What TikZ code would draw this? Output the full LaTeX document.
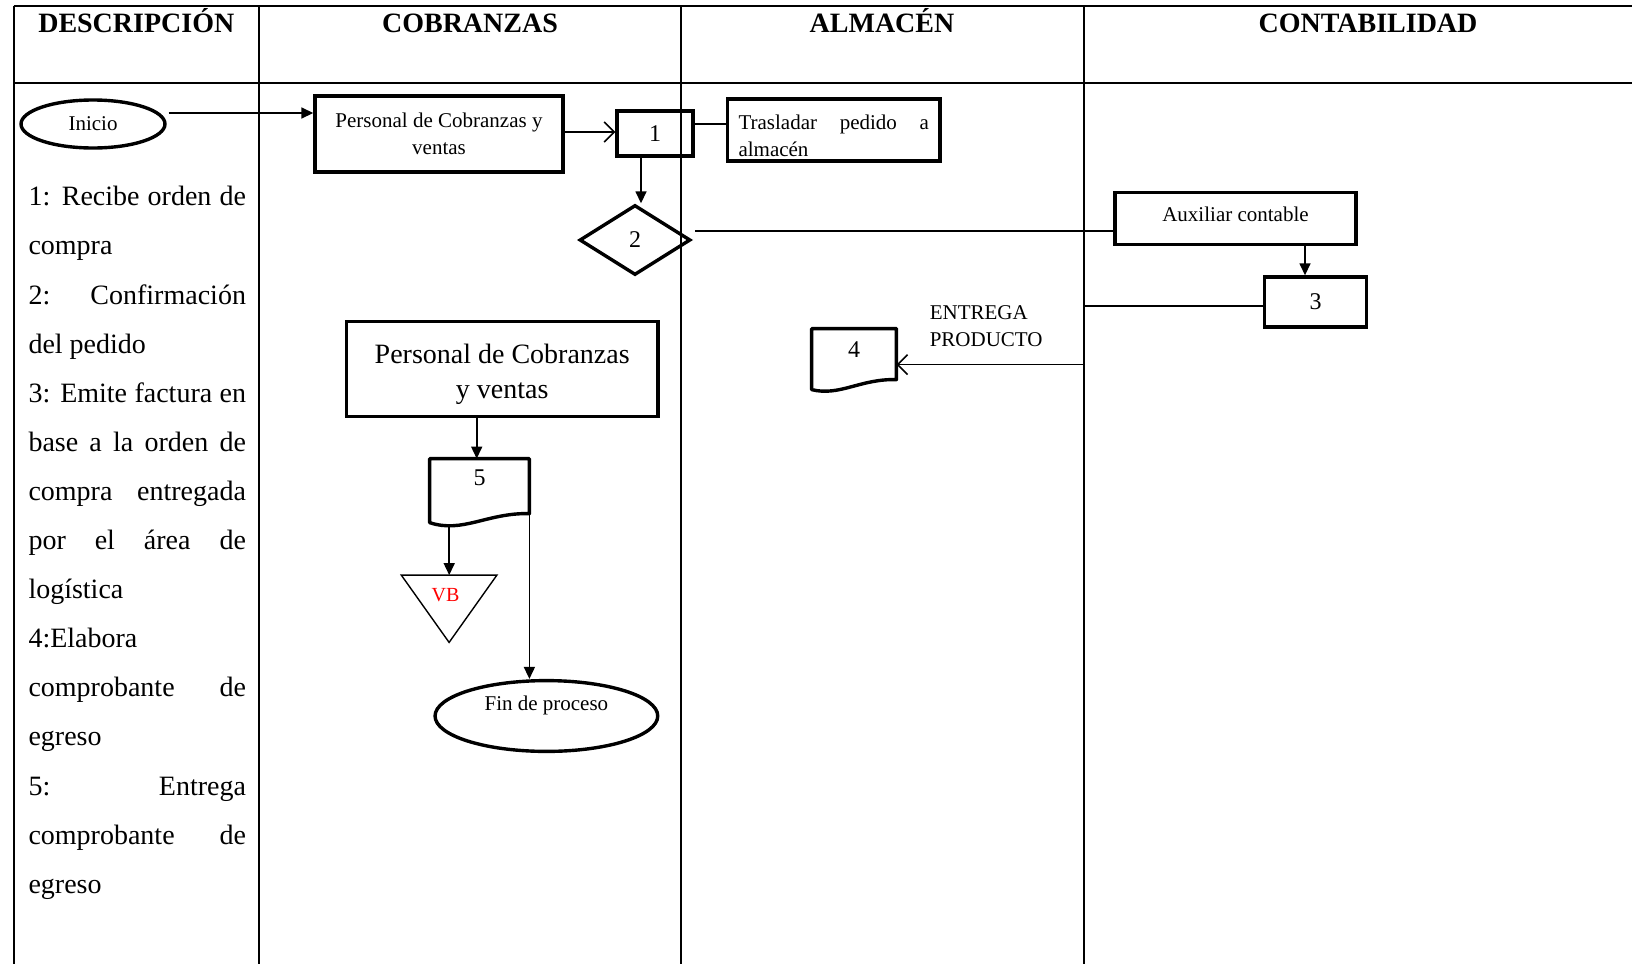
\documentclass[tikz,border=0pt]{standalone}
\usepackage{fontspec}
\setmainfont{Liberation Serif}
\usetikzlibrary{arrows.meta,shapes.geometric,calc}

\begin{document}
\begin{tikzpicture}[x=0.5pt,y=-0.5pt,
  grid/.style={line width=1pt},
  gridh/.style={line width=1.3pt},
  box/.style={draw,line width=1.7pt,rectangle,inner sep=0pt},
  oval/.style={draw,line width=1.7pt,ellipse,inner sep=0pt},
  docline/.style={draw,line width=1.7pt,line join=round},
  conn/.style={line width=0.8pt},
  farr/.style={conn,-{Triangle[length=6pt,width=5.5pt]}},
  oarr/.style={conn,-{Straight Barb[length=5pt,width=10pt,line width=0.8pt]}},
  small/.style={font=\fontsize{10.5}{13.5}\selectfont},
  digit/.style={font=\fontsize{12}{14}\selectfont},
  head/.style={font=\fontsize{14}{16}\selectfont\bfseries,anchor=base,inner sep=0pt},
  desc/.style={font=\fontsize{14}{16}\selectfont,anchor=base west,inner sep=0pt},
]
\useasboundingbox (0,0) rectangle (1632,964);

% table frame and lanes
\coordinate (lane0) at (13.5,83);
\coordinate (lane1) at (259,83);
\coordinate (lane2) at (681,83);
\coordinate (lane3) at (1083.5,83);
\draw[grid] (13.5,6) -- (13.5,964);
\draw[grid] (259,6) -- (259,964);
\draw[grid] (681,6) -- (681,964);
\draw[grid] (1083.5,6) -- (1083.5,964);
\draw[gridh] (13.5,6) -- (1632,6);
\draw[gridh] (13.5,83) -- (1632,83);

% headers
\node[head] (hdesc) at (136.3,32) {DESCRIPCIÓN};
\node[head] (hcob)  at (470,32) {COBRANZAS};
\node[head] (halm)  at (882,32) {ALMACÉN};
\node[head] (hcon)  at (1368,32) {CONTABILIDAD};

% description column
\foreach \t/\m [count=\i from 0] in {1: Recibe orden de/s,compra/n,2: Confirmación/s,del pedido/n,3: Emite factura en/s,base a la orden de/s,compra entregada/s,por el área de/s,logística/n,4:Elabora/n,comprobante de/s,egreso/n,5: Entrega/s,comprobante de/s,egreso/n}
{
  \node[desc] (dl\i) at (28.1,205.8+49.1*\i) {\if\m s\makebox[108.75pt][s]{\t}\else\t\fi};
}

% flow nodes
\node[oval,minimum width=72pt,minimum height=24pt,small] (ini) at (93,124) {Inicio};
\node[box,minimum width=124pt,minimum height=38pt,small,align=center] (pc) at (439,134) {Personal de Cobranzas y\\ventas};
\node[box,minimum width=38pt,minimum height=22.5pt,digit] (b1) at (655,133.5) {1};
\node[box,minimum width=106.25pt,minimum height=31pt,small,align=left,text width=95.25pt] (tr) at (833.75,130)
  {\hbox to 95.25pt{\rule{0pt}{12.6pt}Trasladar\hfill pedido\hfill a}\\almacén};
\node[draw,diamond,line width=1.7pt,inner sep=0pt,minimum width=55.5pt,minimum height=35pt,digit] (d2) at (635,240) {2};
\node[box,minimum width=120.5pt,minimum height=26pt,small,text height=7.5pt,text depth=4.5pt] (aux) at (1235.5,218.5) {Auxiliar contable};
\node[box,minimum width=51pt,minimum height=25pt,digit] (b3) at (1315.5,302) {3};

% document 4
\node[inner sep=0pt,minimum width=42pt,minimum height=21pt,digit] (d4) at (854,350) {4};
\draw[docline] (d4.north west) -- (d4.north east) -- ($(d4.north east)+(0,51)$)
  .. controls ($(d4.north east)+(-36,50)$) and ($(d4.north west)+(28,68)$) .. ($(d4.north west)+(0,61)$) -- cycle;
\node[small,align=left,anchor=west,inner sep=0pt] (lbl) at (929.4,325.7) {ENTREGA\\PRODUCTO};

% second block in Cobranzas
\node[box,minimum width=155.6pt,minimum height=47.35pt,font=\fontsize{14}{17.7}\selectfont,align=center] (big) at (502.2,369)
  {\rule{0pt}{15pt}Personal de Cobranzas\\y ventas};

% document 5
\node[inner sep=0pt,minimum width=49.5pt,minimum height=19pt,digit] (d5) at (479.5,478) {5};
\draw[docline] (d5.north west) -- (d5.north east) -- ($(d5.north east)+(0,55)$)
  .. controls ($(d5.north east)+(-42,54)$) and ($(d5.north west)+(33,75)$) .. ($(d5.north west)+(0,64)$) -- cycle;

% VB triangle
\node[inner sep=0pt,minimum width=47.4pt,minimum height=33.25pt] (vb) at (449.1,608.75) {};
\draw[line width=0.7pt] (vb.north west) -- (vb.north east) -- (vb.south) -- cycle;
\node[text=red,font=\fontsize{10}{12}\selectfont,inner sep=0pt] (vbt) at (445.5,595.3) {VB};

% end
\node[oval,minimum width=111.35pt,minimum height=35.4pt] (fin) at (546.4,716) {};
\node[small,inner sep=0pt] (fint) at (546.4,705) {Fin de proceso};

% connectors
\draw[farr] ($(ini.east)+(2,-11)$) coordinate (s1) -- (s1 -| pc.west);
\draw[oarr] ($(pc.east)+(0,-2)$) coordinate (s2) -- (s2 -| b1.west);
\draw[conn] ($(b1.east)+(0,-9.5)$) coordinate (s3) -- (s3 -| tr.west);
\draw[farr] ($(b1.south)+(-14,0)$) coordinate (s4) -- (s4 |- d2.north);
\draw[conn] ($(d2.east)+(3,-9)$) coordinate (s5) -- (s5 -| aux.west);
\draw[farr] ($(aux.south)+(69.5,0)$) coordinate (s6) -- (s6 |- b3.north);
\coordinate (e7) at ($(d4.north east)+(0,36)$);
\draw[oarr] ($(b3.west)+(0,4)$) coordinate (s7) -- (s7 -| lane3) -- (lane3 |- e7) -- (e7);
\draw[farr] ($(big.south)+(-25.5,0)$) coordinate (s8) -- (s8 |- d5.north);
\draw[farr] ($(d5.north west)+(19.6,68)$) coordinate (s9) -- (s9 |- vb.north);
\draw[farr] ($(d5.north east)+(0,55)$) coordinate (s10) -- (s10 |- fin.north);
\end{tikzpicture}
\end{document}
